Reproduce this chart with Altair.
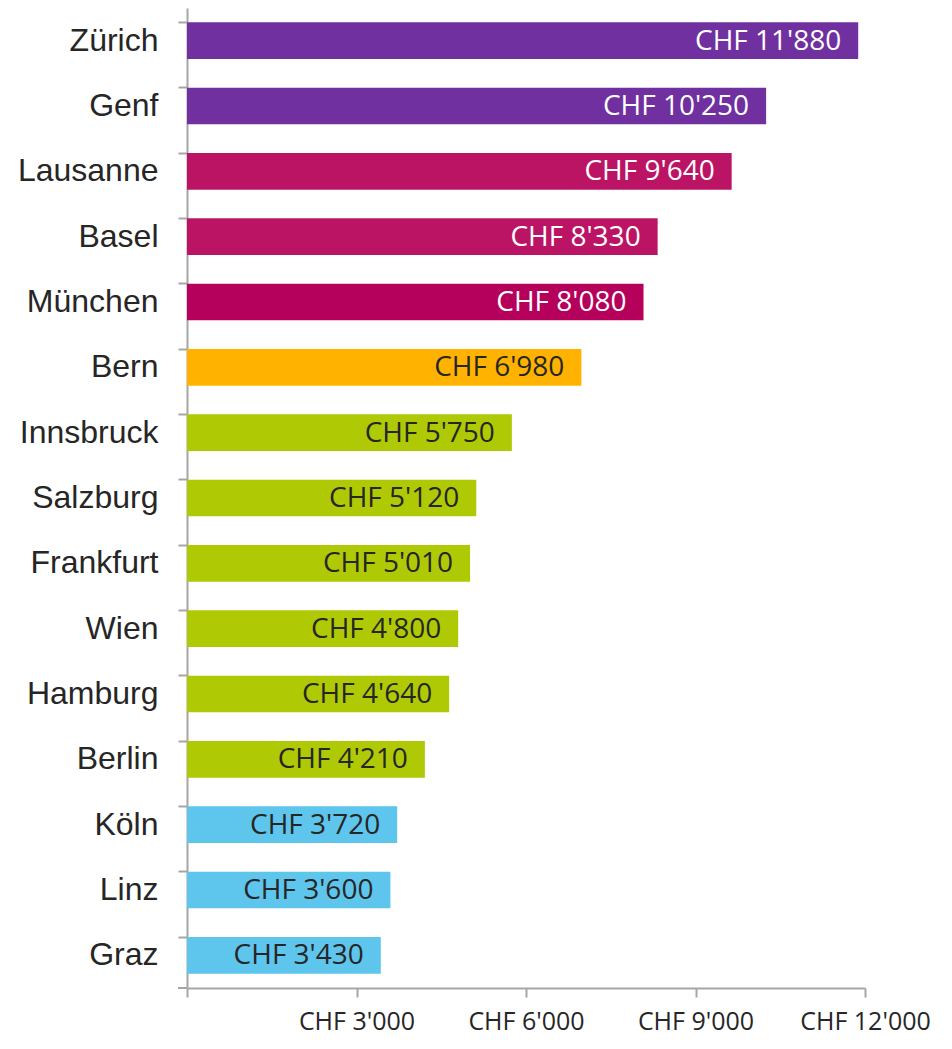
import altair as alt
import pandas as pd

cities = ["Zürich", "Genf", "Lausanne", "Basel", "München", "Bern", "Innsbruck",
          "Salzburg", "Frankfurt", "Wien", "Hamburg", "Berlin", "Köln", "Linz", "Graz"]
values = [11880, 10250, 9640, 8330, 8080, 6980, 5750, 5120, 5010, 4800, 4640, 4210,
          3720, 3600, 3430]
groups = ["g1", "g1", "g2", "g2", "g3", "g4", "g5", "g5", "g5", "g5", "g5", "g5",
          "g6", "g6", "g6"]
x_ticks = [0, 3000, 6000, 9000, 12000]

group_domain = ["g1", "g2", "g3", "g4", "g5", "g6"]
group_colors = ["#7030A0", "#BC1464", "#B5005C", "#FFB300", "#AFCA05", "#5EC5EC"]
text_colors = ["#FFFFFF", "#FFFFFF", "#FFFFFF", "#262626", "#262626", "#262626"]

df = pd.DataFrame({
    "city": cities,
    "value": values,
    "group": groups,
    "label": ["CHF " + f"{v:,}".replace(",", "'") for v in values],
})

W, H = 678, 980

y_enc = alt.Y("city:N", sort=cities, title=None,
              scale=alt.Scale(paddingInner=0.44, paddingOuter=0.22),
              axis=alt.Axis(labelFont="Liberation Sans", labelFontSize=32,
                            labelColor="#262626", labelPadding=20,
                            tickSize=9, tickWidth=2, tickColor="#A6A6A6",
                            bandPosition=0, domainColor="#A6A6A6", domainWidth=2,
                            grid=False))
x_enc = alt.X("value:Q", title=None,
              scale=alt.Scale(domain=[0, 12000], nice=False),
              axis=alt.Axis(values=x_ticks, labelFont="Open Sans", labelFontSize=25,
                            labelColor="#262626", labelPadding=12,
                            labelExpr="datum.value == 0 ? '' : 'CHF ' + replace(format(datum.value, ','), ',', \"'\")",
                            tickSize=9, tickWidth=2, tickColor="#A6A6A6",
                            domainColor="#A6A6A6", domainWidth=2, grid=False,
                            labelFlush=False))

bars = alt.Chart(df).mark_bar().encode(
    y=y_enc,
    x=x_enc,
    color=alt.Color("group:N", scale=alt.Scale(domain=group_domain, range=group_colors),
                    legend=None),
)

labels = alt.Chart(df).mark_text(align="right", baseline="middle", dx=-17, dy=1,
                                 font="Open Sans", fontSize=28).encode(
    y=alt.Y("city:N", sort=cities),
    x="value:Q",
    text="label:N",
    color=alt.Color("group:N", scale=alt.Scale(domain=group_domain, range=text_colors),
                    legend=None),
)

end_tick = alt.Chart(df).mark_rule(color="#A6A6A6", strokeWidth=2).encode(
    x=alt.value(-9), x2=alt.value(0), y=alt.value(H)
)

chart = alt.layer(bars, labels, end_tick).resolve_scale(color="independent").properties(
    width=W, height=H, background="white",
    padding={"left": 9, "top": 0, "right": 5, "bottom": 6},
).configure_view(strokeWidth=0, stroke=None)

chart.save("out.html", embed_options={"renderer": "svg", "actions": False})
